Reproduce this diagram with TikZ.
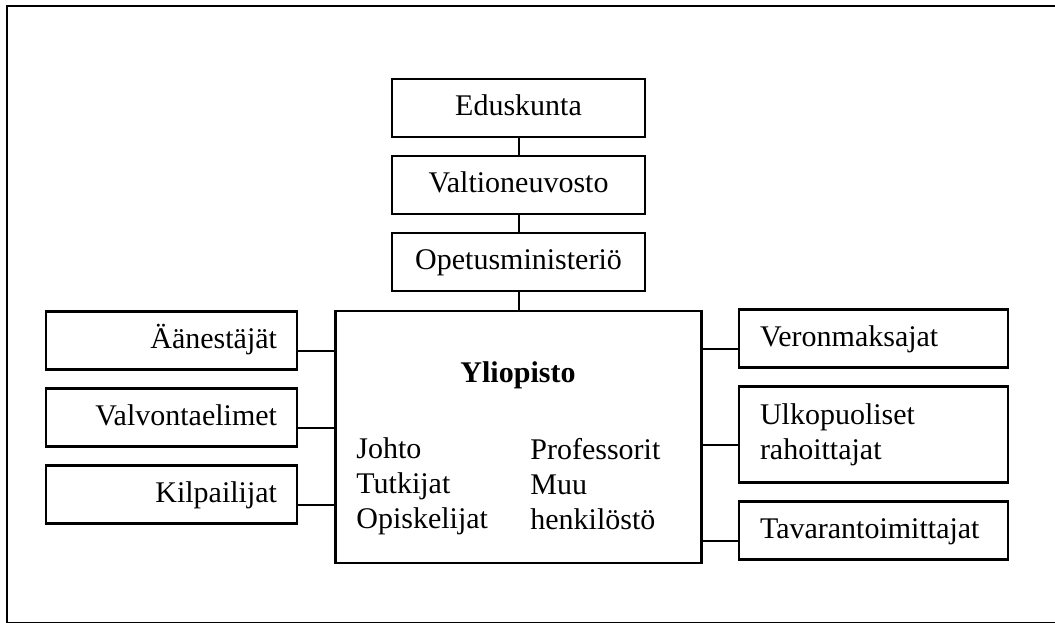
\documentclass[tikz,border=0pt]{standalone}
\usepackage{fontspec}
\setmainfont{Liberation Serif}
\usetikzlibrary{positioning}

\begin{document}
\begin{tikzpicture}[x=0.5pt, y=-0.5pt, font=\fontsize{15}{17.5}\selectfont, box/.style={draw, line width=1.2pt, inner sep=0pt, minimum height=29pt}, oneline/.style={text height=11.25pt, text depth=3.75pt}, topbox/.style={box, oneline, minimum width=126.5pt}, leftbox/.style={box, oneline, minimum width=125.5pt, text width=105.5pt, align=right}, rightbox/.style={box, minimum width=134.5pt, text width=113.5pt, align=left}, mainbox/.style={draw, line width=1.2pt, minimum width=183pt, minimum height=126pt}, list/.style={align=left, inner sep=0pt, anchor=north west}, link/.style={line width=1pt}]

\useasboundingbox (0,0) rectangle (1055,622);
\draw[line width=1pt] (7,6) rectangle (1075,622.5);

\node[topbox] (edu) at (518.5,108) {Eduskunta};
\node[topbox, below=8.3pt of edu] (valt) {Valtioneuvosto};
\node[topbox, below=8.3pt of valt] (ope) {Opetusministeriö};
\node[mainbox, below=8.8pt of ope] (yo) {};
\node[font=\fontsize{15}{17.5}\selectfont\bfseries, anchor=base] (title) at (518,382) {Yliopisto};
\node[list] (staff) at (356,437.5) {Johto\\Tutkijat\\Opiskelijat};
\node[list] (prof) at (530,437.5) {Professorit\\Muu\\henkilöstö};

\node[leftbox] (aan) at (171.5,340.5) {Äänestäjät};
\node[leftbox, below=8.3pt of aan] (valv) {Valvontaelimet};
\node[leftbox, below=8.3pt of valv] (kil) {Kilpailijat};

\node[rightbox, oneline] (ver) at (873.5,338.5) {Veronmaksajat};
\node[rightbox, minimum height=48pt, below=8.3pt of ver] (ulk) {Ulkopuoliset\\rahoittajat};
\node[rightbox, oneline, below=8.3pt of ulk] (tav) {Tavarantoimittajat};

\draw[link] (edu) -- (valt);
\draw[link] (valt) -- (ope);
\draw[link] (ope) -- (yo);
\draw[link] ([yshift=-5pt]aan.east) -- ([yshift=-5pt]aan.east -| yo.west);
\draw[link] ([yshift=-5pt]valv.east) -- ([yshift=-5pt]valv.east -| yo.west);
\draw[link] ([yshift=-5pt]kil.east) -- ([yshift=-5pt]kil.east -| yo.west);
\draw[link] ([yshift=-5pt]ver.west) -- ([yshift=-5pt]ver.west -| yo.east);
\draw[link] ([yshift=-5pt]ulk.west) -- ([yshift=-5pt]ulk.west -| yo.east);
\draw[link] ([yshift=-5pt]tav.west) -- ([yshift=-5pt]tav.west -| yo.east);

\end{tikzpicture}
\end{document}
